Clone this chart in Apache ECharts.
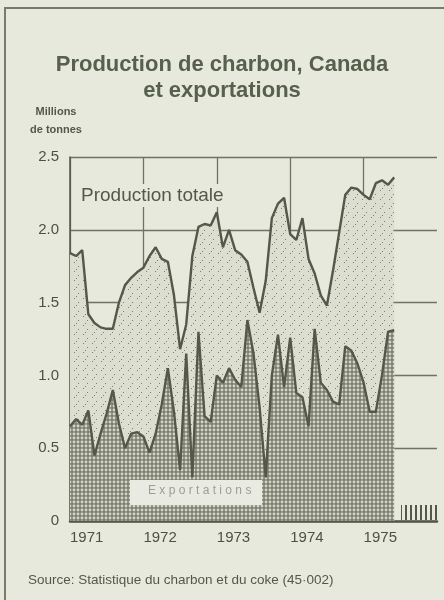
<!DOCTYPE html>
<html>
<head>
<meta charset="utf-8">
<script src="https://cdn.jsdelivr.net/npm/echarts@6/dist/echarts.min.js"></script>
<style>
  html, body { margin: 0; padding: 0; background: #e7e9dc; }
  #main { width: 444px; height: 600px; }
</style>
</head>
<body>
<div id="main"></div>
<script>
// monthly data, Jan 1971 .. Jun 1975 (millions de tonnes)
const years = ["1971", "1972", "1973", "1974", "1975"];
const yTicks = [0, 0.5, 1.0, 1.5, 2.0, 2.5];
const production = [
  1.84, 1.82, 1.86, 1.42, 1.36, 1.33, 1.32, 1.32, 1.50, 1.62, 1.67, 1.71,
  1.74, 1.82, 1.88, 1.80, 1.78, 1.55, 1.18, 1.35, 1.82, 2.02, 2.04, 2.03,
  2.12, 1.88, 2.00, 1.86, 1.83, 1.78, 1.60, 1.43, 1.65, 2.08, 2.18, 2.22,
  1.97, 1.93, 2.08, 1.80, 1.70, 1.55, 1.48, 1.72, 1.98, 2.24, 2.29, 2.28,
  2.24, 2.21, 2.32, 2.34, 2.31, 2.36
];
const exportations = [
  0.65, 0.70, 0.66, 0.76, 0.45, 0.60, 0.74, 0.90, 0.67, 0.50, 0.60, 0.61,
  0.58, 0.47, 0.60, 0.80, 1.05, 0.75, 0.35, 1.15, 0.30, 1.30, 0.72, 0.68,
  1.00, 0.95, 1.05, 0.97, 0.92, 1.38, 1.15, 0.78, 0.30, 1.00, 1.28, 0.92,
  1.26, 0.88, 0.85, 0.65, 1.32, 0.95, 0.90, 0.82, 0.80, 1.20, 1.17, 1.08,
  0.95, 0.75, 0.75, 1.00, 1.30, 1.31
];

const ink = "#55574a";

// small canvas textures for the printed screens
function stipple() {
  const c = document.createElement("canvas");
  c.width = 9; c.height = 9;
  const g = c.getContext("2d");
  g.fillStyle = "#dcdecf";
  g.fillRect(0, 0, 9, 9);
  g.fillStyle = "#7e806d";
  g.fillRect(2, 1, 1, 1);
  g.fillRect(6, 5, 1, 1);
  g.fillRect(4, 8, 1, 1);
  return c;
}
function halftone() {
  const c = document.createElement("canvas");
  c.width = 4; c.height = 4;
  const g = c.getContext("2d");
  g.fillStyle = "#7c7e6e";
  g.fillRect(0, 0, 4, 4);
  g.fillStyle = "#d3d5c8";
  g.beginPath();
  g.arc(2, 2, 1.45, 0, Math.PI * 2);
  g.fill();
  return c;
}
function stripes() {
  const c = document.createElement("canvas");
  c.width = 5; c.height = 5;
  const g = c.getContext("2d");
  g.fillStyle = "#e7e9dc";
  g.fillRect(0, 0, 5, 5);
  g.fillStyle = ink;
  g.fillRect(0, 0, 2, 5);
  return c;
}

var chartDom = document.getElementById("main");
var myChart = echarts.init(chartDom);

const option = {
  animation: false,
  backgroundColor: "#e7e9dc",
  textStyle: { fontFamily: "Liberation Sans" },
  title: {
    text: "Production de charbon, Canada\net exportations",
    left: "center",
    top: 47,
    textStyle: {
      fontSize: 22,
      fontWeight: "bold",
      lineHeight: 26,
      color: "#56604c",
      fontFamily: "Liberation Sans",
    },
  },
  grid: { left: 70, right: 7, top: 157, bottom: 79 },
  xAxis: {
    type: "value",
    min: 0,
    max: years.length * 12,
    interval: 12,
    axisLine: { show: true, onZero: false, lineStyle: { color: ink, width: 2.5 } },
    axisTick: { show: false },
    axisLabel: {
      align: "left",
      margin: 9,
      fontSize: 15,
      color: "#4e5043",
      formatter: (v) => (v / 12 < years.length ? years[v / 12] : ""),
    },
    splitLine: { show: true, showMaxLine: false, lineStyle: { color: "#707262", width: 1.3 } },
  },
  yAxis: {
    type: "value",
    min: yTicks[0],
    max: yTicks[yTicks.length - 1],
    interval: 0.5,
    axisLine: { show: true, lineStyle: { color: ink, width: 1.5 } },
    axisTick: { show: false },
    axisLabel: {
      margin: 11,
      fontSize: 15,
      color: "#4e5043",
      formatter: (v) => (v === 0 ? "0" : v.toFixed(1)),
    },
    splitLine: { show: true, lineStyle: { color: "#707262", width: 1.3 } },
  },
  series: [
    {
      name: "Production totale",
      type: "line",
      data: production.map((v, i) => [i, v]),
      symbol: "none",
      z: 2,
      lineStyle: { color: ink, width: 2.4 },
      areaStyle: { color: { image: stipple(), repeat: "repeat" }, opacity: 1 },
    },
    {
      name: "Exportations",
      type: "line",
      data: exportations.map((v, i) => [i, v]),
      symbol: "none",
      z: 3,
      lineStyle: { color: ink, width: 2.4 },
      areaStyle: { color: { image: halftone(), repeat: "repeat" }, opacity: 1 },
    },
  ],
  graphic: [
    {
      type: "rect",
      shape: { x: 5, y: 8, width: 460, height: 620 },
      style: { fill: null, stroke: "#7a7c6b", lineWidth: 2 },
      silent: true,
    },
    {
      type: "text",
      x: 56,
      y: 103,
      style: {
        text: "Millions\nde tonnes",
        fontSize: 11,
        fontWeight: "bold",
        lineHeight: 18,
        align: "center",
        fill: "#55574a",
        fontFamily: "Liberation Sans",
      },
    },
    {
      type: "text",
      left: 78,
      top: 184,
      z: 10,
      style: {
        text: "Production totale",
        fontSize: 19,
        fill: "#55574a",
        backgroundColor: "#e7e9dc",
        padding: [2, 3],
        fontFamily: "Liberation Sans",
      },
    },
    {
      type: "rect",
      z: 10,
      shape: { x: 130, y: 480, width: 132, height: 25 },
      style: { fill: "#e9eae2" },
    },
    {
      type: "text",
      z: 11,
      left: 148,
      top: 485,
      style: {
        text: "E x p o r t a t i o n s",
        fontSize: 12,
        fill: "#9c9e8f",
        fontFamily: "Liberation Sans",
      },
    },
    {
      type: "rect",
      z: 10,
      shape: { x: 401, y: 505, width: 36, height: 15 },
      style: { fill: { image: stripes(), repeat: "repeat" } },
    },
    {
      type: "text",
      left: 28,
      top: 573,
      style: {
        text: "Source: Statistique du charbon et du coke (45\u00b7002)",
        fontSize: 13.5,
        fill: "#55574a",
        fontFamily: "Liberation Sans",
      },
    },
  ],
};

option && myChart.setOption(option);
</script>
</body>
</html>
